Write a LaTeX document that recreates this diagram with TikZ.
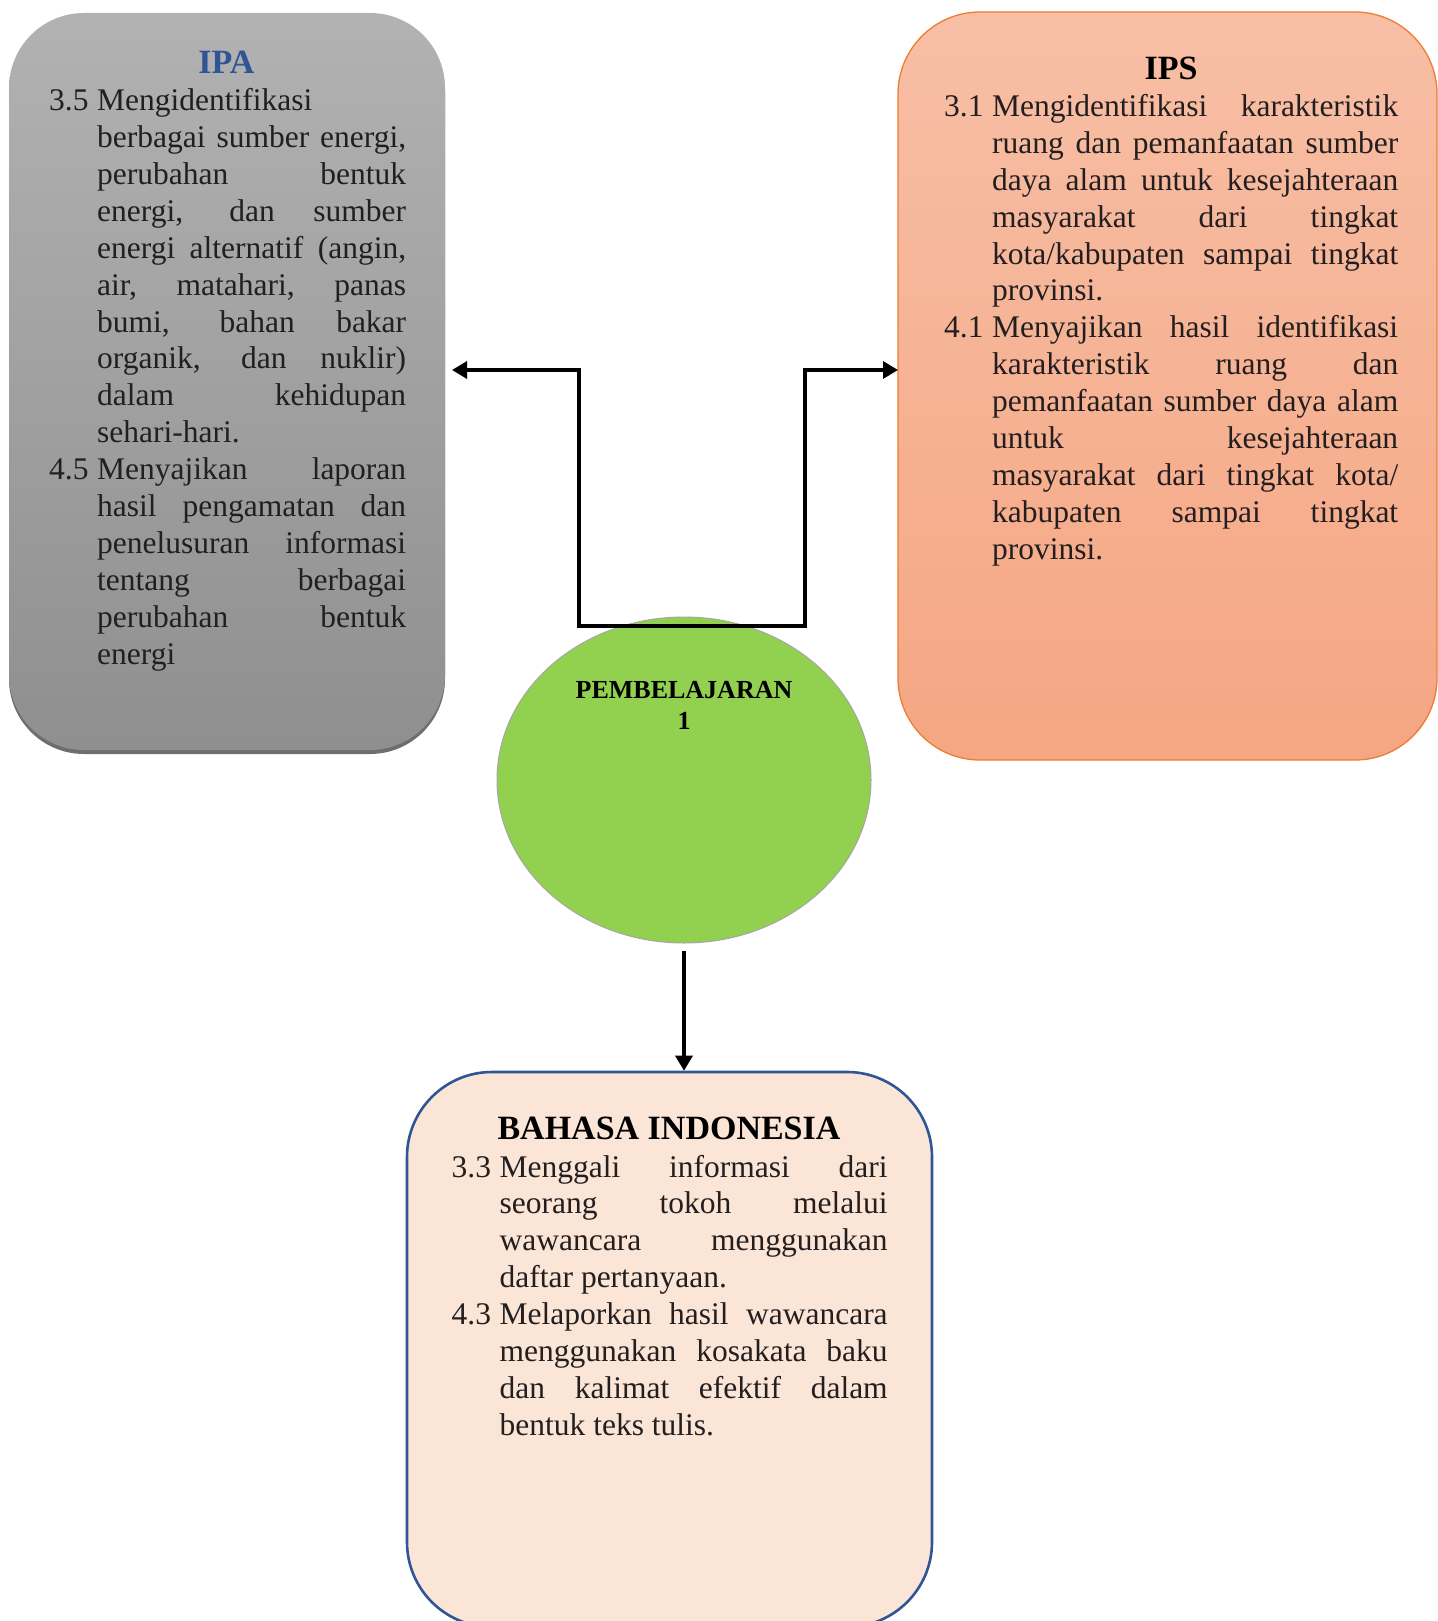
\documentclass[tikz,border=0pt]{standalone}
\usepackage{fontspec}
\setmainfont{Liberation Serif}
\usetikzlibrary{arrows.meta,shadows,shapes.geometric}
\definecolor{ipatop}{HTML}{B2B2B2}
\definecolor{ipabot}{HTML}{8F8F8F}
\definecolor{ipashadow}{HTML}{6E6E6E}
\definecolor{ipstop}{HTML}{F7BFA6}
\definecolor{ipsbot}{HTML}{F5A682}
\definecolor{ipsline}{HTML}{ED7D31}
\definecolor{bifill}{HTML}{FBE5D6}
\definecolor{biline}{HTML}{2F5597}
\definecolor{pbfill}{HTML}{92D050}
\definecolor{pbline}{HTML}{A6A6A6}
\definecolor{titleblue}{HTML}{2F5597}
\definecolor{txt}{HTML}{231F20}
\newlength{\bw}
\newcommand{\JL}[1]{\makebox[\bw][s]{#1}}
\newcommand{\LL}[1]{\makebox[\bw][l]{#1}}
\newcommand{\NL}[1]{\makebox[48pt][l]{#1}}
\newcommand{\NO}{\hspace*{48pt}}
\newcommand{\bodyfont}{\fontsize{31.5}{36.9}\selectfont}
\tikzset{
  boxbase/.style={rectangle, inner sep=0pt},
  ipabox/.style={boxbase, rounded corners=75pt, minimum width=436pt, minimum height=737pt,
    top color=ipatop, bottom color=ipabot,
    drop shadow={shadow xshift=0pt, shadow yshift=-4pt, fill=ipashadow, opacity=1}},
  ipsbox/.style={boxbase, rounded corners=82pt, minimum width=539pt, minimum height=748pt,
    top color=ipstop, bottom color=ipsbot, draw=ipsline, line width=1.3pt},
  bibox/.style={boxbase, rounded corners=85pt, minimum width=525pt, minimum height=555pt,
    fill=bifill, draw=biline, line width=2.6pt},
  pbell/.style={ellipse, minimum width=374pt, minimum height=326pt, inner sep=0pt,
    fill=pbfill, draw=pbline, line width=1pt},
  titletxt/.style={inner sep=0pt, anchor=base, font=\fontsize{34}{39}\selectfont\bfseries},
  bodytxt/.style={inner sep=0pt, anchor=base west, text=txt, font=\bodyfont},
  pbtxt/.style={inner sep=0pt, anchor=base, font=\fontsize{26}{31}\selectfont\bfseries},
  conn/.style={draw=black, line width=3.2pt, line join=miter,
    -{Triangle[length=15pt,width=17pt]}},
}
\begin{document}
\begin{tikzpicture}[x=1pt,y=-1pt]
\useasboundingbox (0,0) rectangle (1437,1621);
% boxes
\node[ipabox] (ipa) at (227,381.5) {};
\node[ipsbox] (ips) at (1167.5,386) {};
\node[bibox] (bi) at (669.5,1349.5) {};
\node[pbell] (pb) at (684,780) {};
% titles
\node[titletxt, text=titleblue] (ipat) at (226.5,74) {IPA};
\node[titletxt, text=black] (ipst) at (1171,80) {IPS};
\node[titletxt, text=black] (bit) at (669,1139) {BAHASA INDONESIA};
\node[pbtxt] (pbt1) at (684,698) {PEMBELAJARAN};
\node[pbtxt] (pbt2) at (684,729) {1};
% IPA text
\node[bodytxt] (ipab) at (49,110.7) {\parbox[t]{357pt}{\bodyfont\setlength{\bw}{309pt}%
\NL{3.5}\LL{Mengidentifikasi}\\
\NO\JL{berbagai sumber energi,}\\
\NO\JL{perubahan bentuk}\\
\NO\JL{energi, dan sumber}\\
\NO\JL{energi alternatif (angin,}\\
\NO\JL{air, matahari, panas}\\
\NO\JL{bumi, bahan bakar}\\
\NO\JL{organik, dan nuklir)}\\
\NO\JL{dalam kehidupan}\\
\NO\LL{sehari-hari.}\\
\NL{4.5}\JL{Menyajikan laporan}\\
\NO\JL{hasil pengamatan dan}\\
\NO\JL{penelusuran informasi}\\
\NO\JL{tentang berbagai}\\
\NO\JL{perubahan bentuk}\\
\NO\LL{energi}}};
% IPS text
\node[bodytxt] (ipsb) at (944,116.5) {\parbox[t]{454pt}{\bodyfont\setlength{\bw}{406pt}%
\NL{3.1}\JL{Mengidentifikasi karakteristik}\\
\NO\JL{ruang dan pemanfaatan sumber}\\
\NO\JL{daya alam untuk kesejahteraan}\\
\NO\JL{masyarakat dari tingkat}\\
\NO\JL{kota/kabupaten sampai tingkat}\\
\NO\LL{provinsi.}\\
\NL{4.1}\JL{Menyajikan hasil identifikasi}\\
\NO\JL{karakteristik ruang dan}\\
\NO\JL{pemanfaatan sumber daya alam}\\
\NO\JL{untuk kesejahteraan}\\
\NO\JL{masyarakat dari tingkat kota/}\\
\NO\JL{kabupaten sampai tingkat}\\
\NO\LL{provinsi.}}};
% Bahasa text
\node[bodytxt] (bib) at (451.5,1177) {\parbox[t]{436pt}{\bodyfont\setlength{\bw}{388pt}%
\NL{3.3}\JL{Menggali informasi dari}\\
\NO\JL{seorang tokoh melalui}\\
\NO\JL{wawancara menggunakan}\\
\NO\LL{daftar pertanyaan.}\\
\NL{4.3}\JL{Melaporkan hasil wawancara}\\
\NO\JL{menggunakan kosakata baku}\\
\NO\JL{dan kalimat efektif dalam}\\
\NO\LL{bentuk teks tulis.}}};
% connectors
\coordinate (jn) at (pb.north |- 0,626);
\coordinate (lknee) at (579,370);
\coordinate (rknee) at (805,370);
\coordinate (ipatip) at (452,370);
\coordinate (ipstip) at (898,370);
\draw[conn] (jn) -| (lknee) -- (ipatip);
\draw[conn] (jn) -| (rknee) -- (ipstip);
\draw[conn, shorten <=7pt] (pb.south) -- (pb.south |- bi.north);
\end{tikzpicture}
\end{document}
